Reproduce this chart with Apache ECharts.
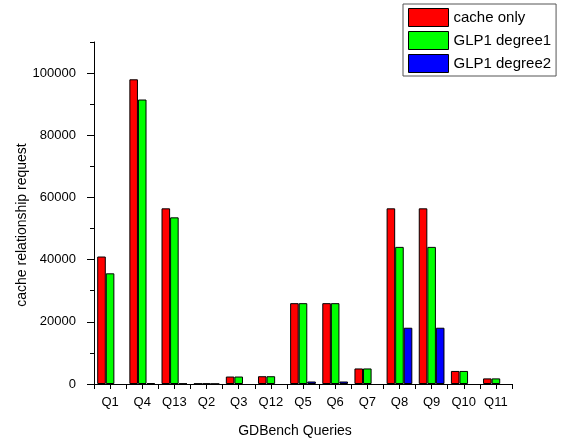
<!DOCTYPE html>
<html>
<head>
<meta charset="utf-8">
<script src="https://cdn.jsdelivr.net/npm/echarts@6/dist/echarts.min.js"></script>
<style>html,body{margin:0;padding:0;background:#fff}#c{width:576px;height:443px}</style>
</head>
<body>
<div id="c"></div>
<script>
var categories = ['Q1','Q4','Q13','Q2','Q3','Q12','Q5','Q6','Q7','Q8','Q9','Q10','Q11'];
var cacheOnly   = [41000, 98000, 56500, 150, 2400, 2500, 26000, 26000, 5000, 56500, 56500, 4200, 1800];
var glp1Degree1 = [35600, 91500, 53600, 150, 2400, 2500, 26000, 26000, 5000, 44100, 44100, 4200, 1800];
var glp1Degree2 = [null, 300, 150, 80, null, null, 800, 800, null, 18100, 18100, null, null];
var yMajorTicks = [0, 20000, 40000, 60000, 80000, 100000];
var yMinorTicks = [10000, 30000, 50000, 70000, 90000, 110000];
var seriesNames = ['cache only', 'GLP1 degree1', 'GLP1 degree2'];
var colors = ['#ff0000', '#00ff00', '#0000ff'];

var font = 'Liberation Sans, Arial, sans-serif';
var chart = echarts.init(document.getElementById('c'), null, {renderer: 'canvas'});
function bar(name, data, color) {
  return {
    name: name, type: 'bar', data: data, xAxisIndex: 0, yAxisIndex: 0,
    barGap: '0%', barCategoryGap: '20%',
    itemStyle: {color: color, borderColor: '#000', borderWidth: 1},
    animation: false
  };
}
chart.setOption({
  animation: false,
  color: colors,
  grid: {left: 94, right: 64, top: 42, bottom: 59, containLabel: false},
  legend: {
    orient: 'vertical', left: 403, top: 4,
    padding: [4, 5, 3, 5], itemGap: 4, itemWidth: 40, itemHeight: 18,
    borderColor: '#555', borderWidth: 1, backgroundColor: '#fff',
    icon: 'rect',
    itemStyle: {borderColor: '#000', borderWidth: 1},
    textStyle: {fontFamily: font, fontSize: 15, color: '#000'},
    data: seriesNames
  },
  xAxis: [{
    type: 'category', data: categories, position: 'bottom',
    name: 'GDBench Queries', nameLocation: 'middle', nameGap: 40,
    nameTextStyle: {fontFamily: font, fontSize: 14, color: '#000', padding: [0, 16, 0, 0]},
    axisLine: {lineStyle: {color: '#000', width: 1}},
    axisTick: {show: true, length: 5, lineStyle: {color: '#000'}},
    axisLabel: {fontFamily: font, fontSize: 13, color: '#000', margin: 12, interval: 0},
    splitLine: {show: false}
  }, {
    type: 'category', data: categories, position: 'bottom',
    axisLine: {show: false},
    axisTick: {show: true, alignWithLabel: true, length: 5, lineStyle: {color: '#000'}},
    axisLabel: {show: false},
    splitLine: {show: false}
  }],
  yAxis: [{
    type: 'value', min: 0, max: 110000, interval: 10000,
    name: 'cache relationship request', nameLocation: 'middle', nameGap: 65,
    nameMoveOverlap: false,
    nameTextStyle: {fontFamily: font, fontSize: 14, color: '#000', padding: [0, 24, 0, 0]},
    axisLine: {show: true, lineStyle: {color: '#000', width: 1}},
    axisTick: {show: true, length: 7, customValues: yMajorTicks, lineStyle: {color: '#000'}},
    axisLabel: {fontFamily: font, fontSize: 13, color: '#000', margin: 18, customValues: yMajorTicks,
      formatter: function (v) { return String(v); }},
    splitLine: {show: false}
  }, {
    type: 'value', min: 0, max: 110000, interval: 10000, position: 'left',
    axisLine: {show: false},
    axisTick: {show: true, length: 4, customValues: yMinorTicks, lineStyle: {color: '#000'}},
    axisLabel: {show: false},
    splitLine: {show: false}
  }],
  series: [
    bar(seriesNames[0], cacheOnly, colors[0]),
    bar(seriesNames[1], glp1Degree1, colors[1]),
    bar(seriesNames[2], glp1Degree2, colors[2])
  ]
});
</script>
</body>
</html>
